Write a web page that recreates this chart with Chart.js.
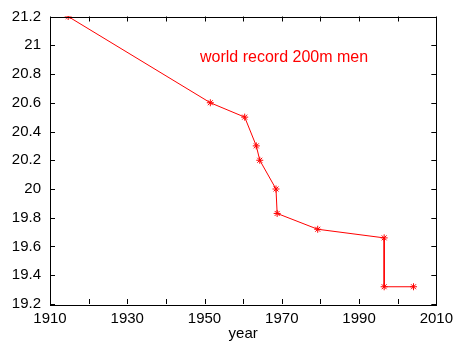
<!DOCTYPE html>
<html>
<head>
<meta charset="utf-8">
<script src="https://cdn.jsdelivr.net/npm/chart.js@4/dist/chart.umd.min.js"></script>
<style>
  html, body { margin: 0; padding: 0; background: #fff; }
  #wrap { width: 459px; height: 341px; }
</style>
</head>
<body>
<div id="wrap"><canvas id="c" width="459" height="341"></canvas></div>
<script>
// 200m world record progression
const years = [1914.7, 1951.5, 1960.4, 1963.4, 1964.3, 1968.5, 1968.8, 1979.3, 1996.5, 1996.5, 2004.1];
const times = [21.2, 20.6, 20.5, 20.3, 20.2, 20.0, 19.83, 19.72, 19.66, 19.32, 19.32];
const xRange = [1910, 2010];
const yRange = [19.2, 21.2];
const seriesLabel = 'world record 200m men';
const xTitle = 'year';

const FONT = 'Liberation Sans, Arial, sans-serif';

// inward ticks on all four sides + box frame + key text
const framePlugin = {
    id: 'frame',
    afterDraw(chart) {
        const ctx = chart.ctx;
        const a = chart.chartArea;
        const xs = chart.scales.x, ys = chart.scales.y;
        const len = 5;
        ctx.save();
        ctx.strokeStyle = '#000';
        ctx.lineWidth = 1;
        ctx.beginPath();
        xs.ticks.forEach(t => {
            const px = Math.round(xs.getPixelForValue(t.value)) + 0.5;
            ctx.moveTo(px, a.bottom); ctx.lineTo(px, a.bottom - len);
            ctx.moveTo(px, a.top); ctx.lineTo(px, a.top + len);
        });
        ys.ticks.forEach(t => {
            const py = Math.round(ys.getPixelForValue(t.value)) + 0.5;
            ctx.moveTo(a.left, py); ctx.lineTo(a.left + len, py);
            ctx.moveTo(a.right, py); ctx.lineTo(a.right - len, py);
        });
        ctx.stroke();
        ctx.strokeRect(Math.round(a.left) + 0.5, Math.round(a.top) + 0.5,
                       Math.round(a.right - a.left), Math.round(a.bottom - a.top));

        ctx.fillStyle = '#ff0000';
        ctx.font = '16px ' + FONT;
        ctx.textAlign = 'left';
        ctx.textBaseline = 'alphabetic';
        ctx.fillText(seriesLabel, 200, 62);
        ctx.restore();
    }
};

new Chart(document.getElementById('c').getContext('2d'), {
    type: 'scatter',
    data: {
        datasets: [{
            label: seriesLabel,
            data: years.map((y, i) => ({ x: y, y: times[i] })),
            showLine: true,
            borderColor: '#ff0000',
            backgroundColor: '#ff0000',
            borderWidth: 1,
            pointStyle: 'star',
            pointRadius: 3.5,
            pointBorderWidth: 1,
            tension: 0
        }]
    },
    options: {
        responsive: false,
        animation: false,
        layout: { padding: { left: 0, right: 22, top: 14, bottom: 0 } },
        plugins: {
            legend: { display: false },
            tooltip: { enabled: false }
        },
        scales: {
            x: {
                type: 'linear',
                min: xRange[0],
                max: xRange[1],
                grid: { display: false, drawTicks: false },
                border: { display: false },
                ticks: {
                    stepSize: 10,
                    autoSkip: false,
                    maxRotation: 0,
                    padding: 6,
                    color: '#000',
                    font: { family: FONT, size: 15 },
                    callback: v => ((v - 1910) % 20 === 0 ? String(v) : '')
                },
                title: {
                    display: true,
                    text: xTitle,
                    color: '#000',
                    font: { family: FONT, size: 15 },
                    padding: { top: 0, bottom: -2 }
                },
                afterFit(s) { s.height = 37; }
            },
            y: {
                min: yRange[0],
                max: yRange[1],
                grid: { display: false, drawTicks: false },
                border: { display: false },
                ticks: {
                    stepSize: 0.2,
                    padding: 9,
                    color: '#000',
                    font: { family: FONT, size: 15, lineHeight: 1 },
                    callback: v => String(Number(v.toFixed(1)))
                },
                afterFit(s) { s.width = 50; }
            }
        }
    },
    plugins: [framePlugin]
});
</script>
</body>
</html>
